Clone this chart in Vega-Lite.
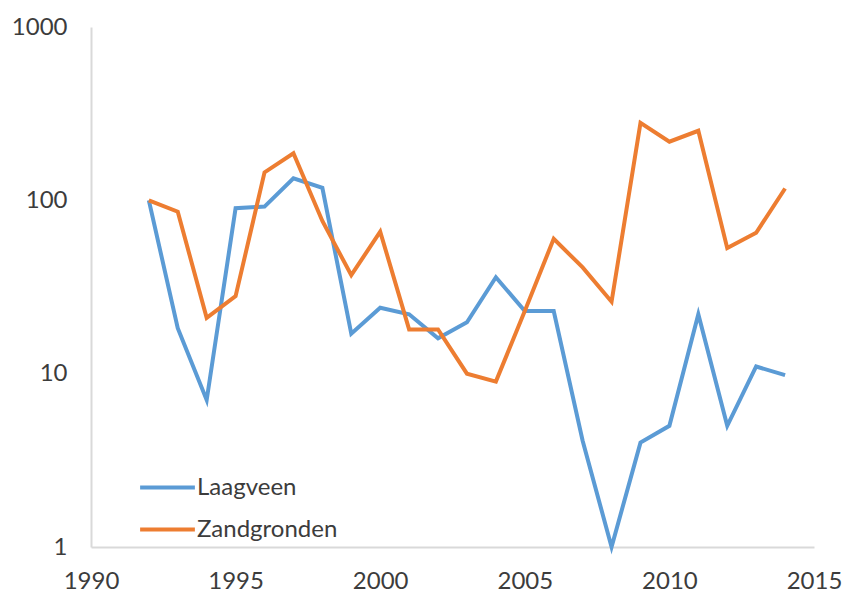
{
  "$schema": "https://vega.github.io/schema/vega-lite/v6.json",
  "autosize": "none",
  "width": 723,
  "height": 520,
  "padding": {"left": 91, "top": 27, "right": 35, "bottom": 58},
  "background": "white",
  "config": {
    "view": {"stroke": null},
    "font": "Lato",
    "axis": {"labelColor": "#3c3c3c", "labelFont": "Lato", "labelFontSize": 24, "grid": false, "ticks": false, "domainColor": "#d9d9d9", "domainWidth": 2, "title": null}
  },
  "data": {"values": [
    {"year": 1992, "value": 100, "series": "Laagveen"},
    {"year": 1993, "value": 18.3, "series": "Laagveen"},
    {"year": 1994, "value": 7.05, "series": "Laagveen"},
    {"year": 1995, "value": 90, "series": "Laagveen"},
    {"year": 1996, "value": 92, "series": "Laagveen"},
    {"year": 1997, "value": 134, "series": "Laagveen"},
    {"year": 1998, "value": 118, "series": "Laagveen"},
    {"year": 1999, "value": 17, "series": "Laagveen"},
    {"year": 2000, "value": 24, "series": "Laagveen"},
    {"year": 2001, "value": 22, "series": "Laagveen"},
    {"year": 2002, "value": 16, "series": "Laagveen"},
    {"year": 2003, "value": 19.8, "series": "Laagveen"},
    {"year": 2004, "value": 36, "series": "Laagveen"},
    {"year": 2005, "value": 23, "series": "Laagveen"},
    {"year": 2006, "value": 23, "series": "Laagveen"},
    {"year": 2007, "value": 4.1, "series": "Laagveen"},
    {"year": 2008, "value": 1, "series": "Laagveen"},
    {"year": 2009, "value": 4, "series": "Laagveen"},
    {"year": 2010, "value": 5, "series": "Laagveen"},
    {"year": 2011, "value": 22, "series": "Laagveen"},
    {"year": 2012, "value": 5, "series": "Laagveen"},
    {"year": 2013, "value": 11, "series": "Laagveen"},
    {"year": 2014, "value": 9.8, "series": "Laagveen"},
    {"year": 1992, "value": 100, "series": "Zandgronden"},
    {"year": 1993, "value": 86, "series": "Zandgronden"},
    {"year": 1994, "value": 21, "series": "Zandgronden"},
    {"year": 1995, "value": 28, "series": "Zandgronden"},
    {"year": 1996, "value": 145, "series": "Zandgronden"},
    {"year": 1997, "value": 187, "series": "Zandgronden"},
    {"year": 1998, "value": 76, "series": "Zandgronden"},
    {"year": 1999, "value": 37, "series": "Zandgronden"},
    {"year": 2000, "value": 66, "series": "Zandgronden"},
    {"year": 2001, "value": 18, "series": "Zandgronden"},
    {"year": 2002, "value": 18, "series": "Zandgronden"},
    {"year": 2003, "value": 10, "series": "Zandgronden"},
    {"year": 2004, "value": 9, "series": "Zandgronden"},
    {"year": 2005, "value": 23, "series": "Zandgronden"},
    {"year": 2006, "value": 60, "series": "Zandgronden"},
    {"year": 2007, "value": 41, "series": "Zandgronden"},
    {"year": 2008, "value": 26, "series": "Zandgronden"},
    {"year": 2009, "value": 280, "series": "Zandgronden"},
    {"year": 2010, "value": 218, "series": "Zandgronden"},
    {"year": 2011, "value": 252, "series": "Zandgronden"},
    {"year": 2012, "value": 53, "series": "Zandgronden"},
    {"year": 2013, "value": 65, "series": "Zandgronden"},
    {"year": 2014, "value": 117, "series": "Zandgronden"}
  ]},
  "mark": {"type": "line", "strokeWidth": 4, "strokeJoin": "miter", "strokeCap": "butt"},
  "encoding": {
    "x": {"field": "year", "type": "quantitative",
      "scale": {"domain": [1990, 2015], "nice": false, "zero": false},
      "axis": {"values": [1990, 1995, 2000, 2005, 2010, 2015], "format": "d", "labelPadding": 22, "labelFlush": false}},
    "y": {"field": "value", "type": "quantitative",
      "scale": {"type": "log", "domain": [1, 1000], "nice": false},
      "axis": {"values": [1, 10, 100, 1000], "format": "d", "labelPadding": 24, "labelFlush": false}},
    "color": {"field": "series", "type": "nominal",
      "scale": {"domain": ["Laagveen", "Zandgronden"], "range": ["#5B9BD5", "#ED7D31"]},
      "legend": {"title": null, "orient": "none", "legendX": 47, "legendY": 431,
        "symbolType": "stroke", "symbolSize": 3000, "symbolStrokeWidth": 4,
        "labelFontSize": 24, "labelFont": "Lato", "labelColor": "#3c3c3c", "labelOffset": 0, "rowPadding": -7}}
  }
}
